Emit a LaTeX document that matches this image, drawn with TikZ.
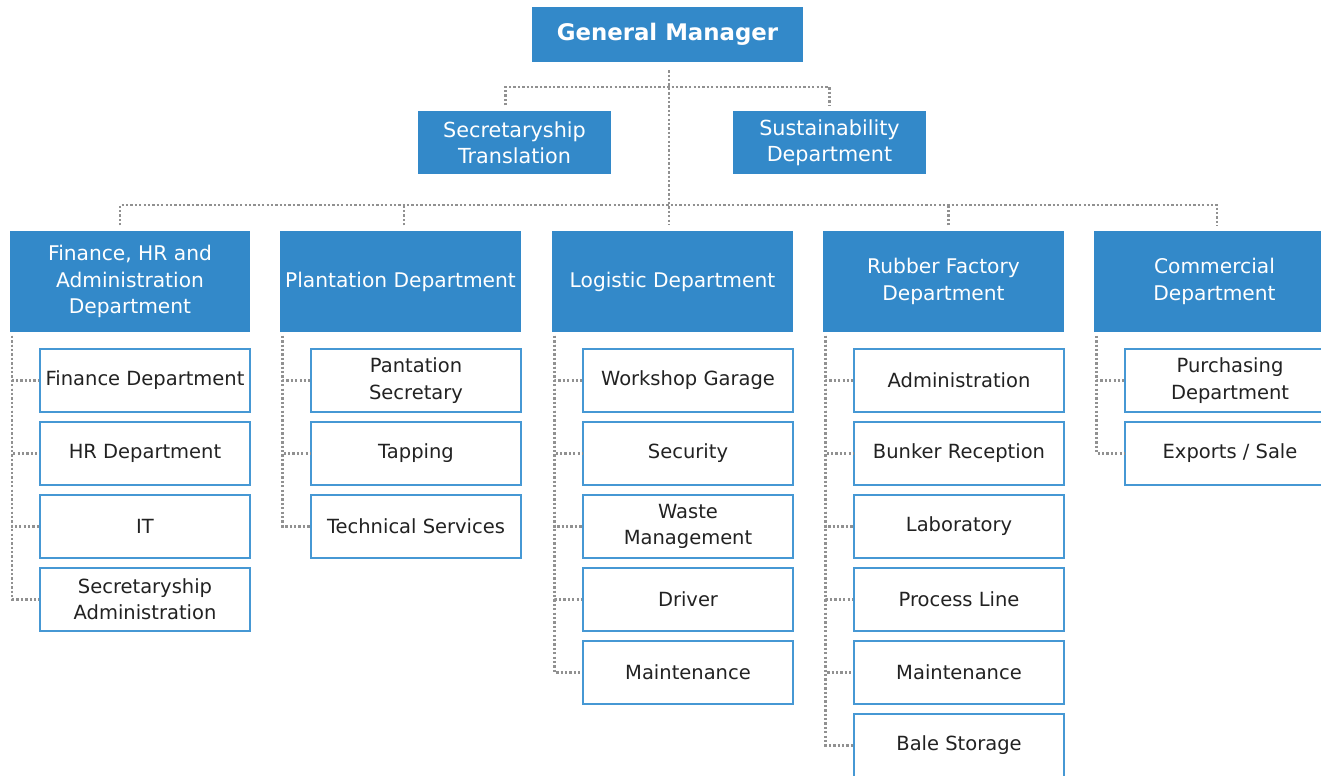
\documentclass[tikz,border=0pt]{standalone}
\usepackage{fontspec}
\setmainfont{DejaVu Sans}
\usepackage{xcolor}
\usetikzlibrary{positioning}
\definecolor{orgblue}{RGB}{51, 137, 201}
\definecolor{edgeblue}{RGB}{70, 152, 212}
\definecolor{dotgray}{RGB}{145, 145, 145}
\definecolor{textgray}{RGB}{34, 34, 34}
\tikzstyle{head} = [rectangle, fill=orgblue, text=white, minimum width=5.42cm, minimum height=1.1cm, font=\fontsize{13}{16}\selectfont\bfseries]
\tikzstyle{staff} = [rectangle, fill=orgblue, text=white, align=center, minimum width=3.86cm, minimum height=1.26cm, font=\fontsize{11.8}{14.8}\selectfont]
\tikzstyle{dept} = [rectangle, fill=orgblue, text=white, align=center, minimum width=4.82cm, minimum height=2.02cm, inner sep=1pt, font=\fontsize{11.5}{15}\selectfont]
\tikzstyle{unit} = [rectangle, draw=edgeblue, line width=0.8pt, fill=white, text=textgray, align=center, minimum width=4.2cm, minimum height=1.26cm, inner sep=1pt, font=\fontsize{11.1}{15}\selectfont]
\tikzstyle{link} = [dotgray, line width=1.4pt, dash pattern=on 1.3pt off 1.2pt]

\begin{document}
\begin{tikzpicture}[x=0.02cm, y=-0.02cm]
    \useasboundingbox (0,0) rectangle (1321,775);
    \clip (0,0) rectangle (1321,775);

    % Top of the chart
    \node[head] (gm) at (667.5, 34.5) {General Manager};
    \node[staff] (sec) at (514.5, 142.5) {Secretaryship\\Translation};
    \node[staff] (sus) at (829.5, 142.5) {Sustainability\\Department};

    % Departments
    \node[dept] (fin) at (130, 281.5) {Finance, HR and\\Administration\\Department};
    \node[dept] (plant) at (400.5, 281.5) {Plantation Department};
    \node[dept] (logi) at (672.5, 281.5) {Logistic Department};
    \node[dept] (rubber) at (943.5, 281.5) {Rubber Factory\\Department};
    \node[dept] (comm) at (1214.5, 281.5) {Commercial\\Department};

    % Finance, HR and Administration
    \node[unit] (fin1) at (145, 380.5) {Finance Department};
    \node[unit] (fin2) at (145, 453.5) {HR Department};
    \node[unit] (fin3) at (145, 526.5) {IT};
    \node[unit] (fin4) at (145, 599.5) {Secretaryship\\Administration};

    % Plantation
    \node[unit] (plant1) at (416, 380.5) {Pantation\\Secretary};
    \node[unit] (plant2) at (416, 453.5) {Tapping};
    \node[unit] (plant3) at (416, 526.5) {Technical Services};

    % Logistic
    \node[unit] (logi1) at (688, 380.5) {Workshop Garage};
    \node[unit] (logi2) at (688, 453.5) {Security};
    \node[unit] (logi3) at (688, 526.5) {Waste\\Management};
    \node[unit] (logi4) at (688, 599.5) {Driver};
    \node[unit] (logi5) at (688, 672.5) {Maintenance};

    % Rubber factory
    \node[unit] (rubber1) at (959, 380.5) {Administration};
    \node[unit] (rubber2) at (959, 453.5) {Bunker Reception};
    \node[unit] (rubber3) at (959, 526.5) {Laboratory};
    \node[unit] (rubber4) at (959, 599.5) {Process Line};
    \node[unit] (rubber5) at (959, 672.5) {Maintenance};
    \node[unit] (rubber6) at (959, 745.5) {Bale Storage};

    % Commercial
    \node[unit] (comm1) at (1230, 380.5) {Purchasing\\Department};
    \node[unit] (comm2) at (1230, 453.5) {Exports / Sale};

    % Bus lines
    \coordinate (bus1) at (669, 87);
    \coordinate (bus2) at (669, 205);

    \draw[link, shorten <=4.5pt, shorten >=3.5pt] (gm.south -| bus1) -- (bus1 |- logi.north);
    \draw[link, shorten <=3pt, shorten >=3pt] ([xshift=-0.18cm]sec.north) |- (bus1) -| (sus.north);
    \draw[link, shorten <=3pt, shorten >=3pt] ([xshift=-0.2cm]fin.north) |- (bus2) -| ([xshift=0.05cm]comm.north);
    \draw[link, shorten <=3pt] ([xshift=0.07cm]plant.north) -- ([xshift=0.07cm]plant.north |- bus2);
    \draw[link, shorten <=3pt] ([xshift=0.1cm]rubber.north) -- ([xshift=0.1cm]rubber.north |- bus2);

    % Department to unit lines
    \foreach \d/\units in {fin/{fin1,fin2,fin3,fin4}, plant/{plant1,plant2,plant3},
        logi/{logi1,logi2,logi3,logi4,logi5},
        rubber/{rubber1,rubber2,rubber3,rubber4,rubber5,rubber6}, comm/{comm1,comm2}}
        \foreach \u in \units
            \draw[link, shorten <=2pt] ([xshift=0.06cm]\d.south west) |- (\u.west);
\end{tikzpicture}
\end{document}
